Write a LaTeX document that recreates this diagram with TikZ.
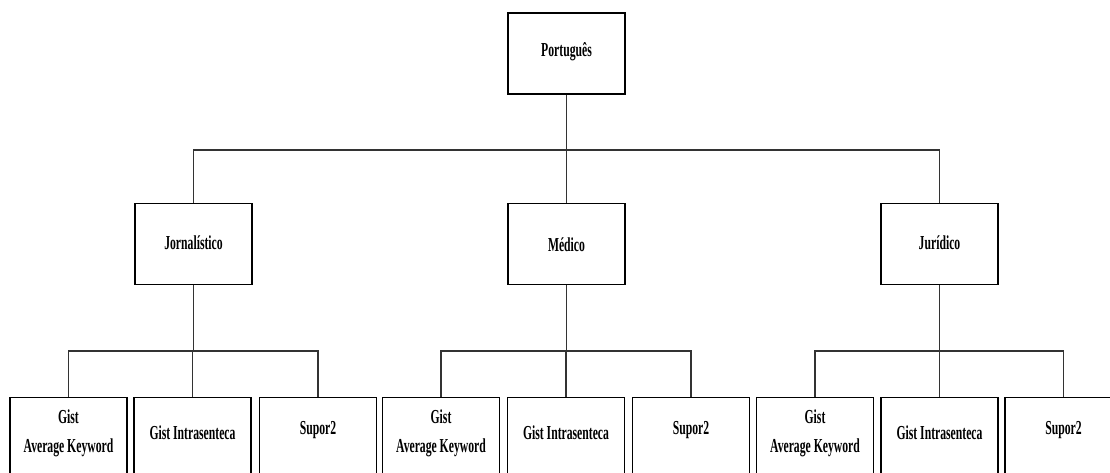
\documentclass[tikz,border=0pt]{standalone}
\usepackage{fontspec}
\newfontfamily\lblfont{Liberation Serif}[FakeStretch=0.59]
\tikzset{
  box/.style={draw, line width=1.4pt, minimum width=117pt, minimum height=81pt, inner sep=0pt},
  botbox/.style={draw, line width=1.4pt, minimum width=117pt, minimum height=120pt, inner sep=0pt, anchor=north},
  lbl/.style={font=\lblfont\bfseries\fontsize{19.8}{22}\selectfont, align=center, inner sep=0pt},
  conn/.style={line width=1.3pt, black!80}
}
\begin{document}
\begin{tikzpicture}[x=1pt,y=-1pt]
\clip (0,0) rectangle (1110,473);
\fill[white] (0,0) rectangle (1110,473);
% top
\node[box] (por) at (566.5,53.5) {};
\node[lbl] (porT) at (566.5,51.5) {Português};
% middle
\node[box] (jor) at (193.5,244) {};
\node[lbl] (jorT) at (193.5,243) {Jornalístico};
\node[box] (med) at (566.5,244) {};
\node[lbl] (medT) at (566.5,245) {Médico};
\node[box] (jur) at (939.5,244) {};
\node[lbl] (jurT) at (939.5,243) {Jurídico};
\coordinate (bar1) at (0,150);
\draw[conn] (por.south) -- (por.south |- bar1);
\draw[conn] (jor.north) -- (jor.north |- bar1) -- (jur.north |- bar1) -- (jur.north);
\draw[conn] (med.north) -- (med.north |- bar1);
% bottom rows
\coordinate (bar2) at (0,351);
\foreach \g/\p/\a/\b/\c in {j/jor/68.5/192.5/318, m/med/441/566/691, r/jur/815/939.5/1063.5}{
  \node[botbox] (\g1) at (\a,397) {};
  \node[botbox] (\g2) at (\b,397) {};
  \node[botbox] (\g3) at (\c,397) {};
  \node[lbl] (\g1T) at (\a,433) {Gist\\[7pt]Average Keyword};
  \node[lbl] (\g2T) at (\b,433) {Gist Intrasenteca};
  \node[lbl] (\g3T) at (\c,430) {Supor2};
  \draw[conn] (\p.south) -- (\p.south |- bar2);
  \draw[conn] (\g1.north) -- (\g1.north |- bar2) -- (\g3.north |- bar2) -- (\g3.north);
  \draw[conn] (\g2.north) -- (\g2.north |- bar2);
}
\end{tikzpicture}
\end{document}
